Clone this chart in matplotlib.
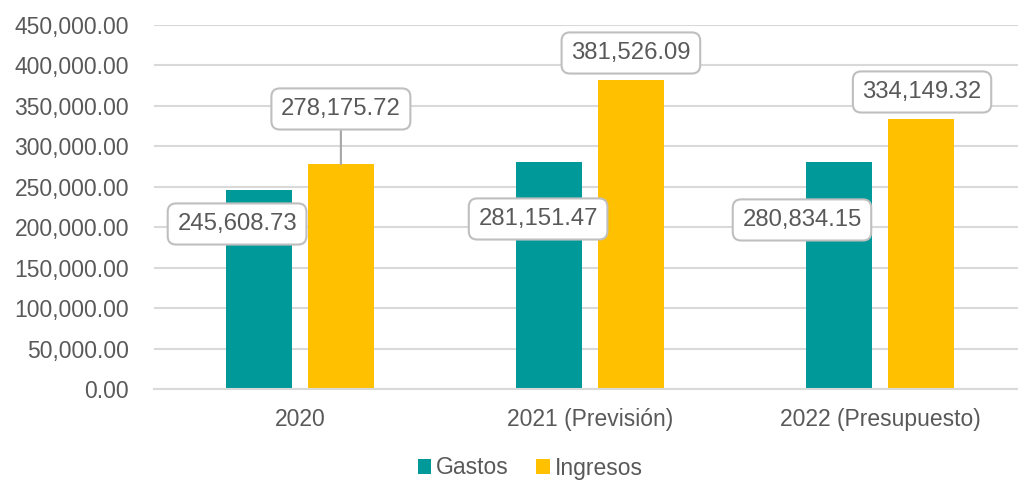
import matplotlib
matplotlib.use('Agg')
import matplotlib.pyplot as plt
import numpy as np
from matplotlib.ticker import FuncFormatter

# data
categories = ['2020', '2021 (Previsión)', '2022 (Presupuesto)']
gastos = [245608.73, 281151.47, 280834.15]
ingresos = [278175.72, 381526.09, 334149.32]

# label placement (x offset from category, y in data units)
gastos_lbl_dx = [-0.217, -0.179, -0.269]
gastos_lbl_y = [204000, 210200, 209000]
ingresos_lbl_dx = [0.141, 0.141, 0.145]
ingresos_lbl_y = [346200, 415400, 367200]

teal = '#009999'
yellow = '#FFC000'
txt = '#595959'
grid = '#D9D9D9'

plt.rcParams['font.family'] = ['Liberation Sans', 'DejaVu Sans']
fs = 16.5
lfs = 17.2

fig = plt.figure(figsize=(10.18, 4.8), dpi=100)
ax = fig.add_axes([154 / 1018, 1 - 389 / 480, 1 - 154 / 1018, (389 - 25) / 480])

x = np.arange(len(categories))
w = 0.228
off = 0.141
ax.bar(x - off, gastos, w, color=teal, label='Gastos', zorder=2)
ax.bar(x + off, ingresos, w, color=yellow, label='Ingresos', zorder=2)

ax.set_xlim((154 - 300) / 290, (1018 - 300) / 290)
ax.set_ylim(0, 450000)
ax.set_yticks(np.arange(0, 450001, 50000))
ax.yaxis.set_major_formatter(FuncFormatter(lambda v, p: '{:,.2f}'.format(v)))
ax.set_xticks(x)
ax.set_xticklabels(categories)
ax.grid(axis='y', color=grid, linewidth=1.5, zorder=0)
ax.set_axisbelow(True)
for s in ['top', 'right', 'left']:
    ax.spines[s].set_visible(False)
ax.spines['bottom'].set_color(grid)
ax.spines['bottom'].set_linewidth(1.5)
ax.tick_params(axis='both', length=0, labelsize=fs, labelcolor=txt)
ax.tick_params(axis='x', pad=14)
ax.tick_params(axis='y', pad=18)

box = dict(boxstyle='round,pad=0.4,rounding_size=0.35', fc='white', ec='#BFBFBF', lw=1.5)

for i in range(len(categories)):
    ax.text(x[i] + gastos_lbl_dx[i], gastos_lbl_y[i], '{:,.2f}'.format(gastos[i]),
            ha='center', va='center', fontsize=lfs, color=txt, bbox=box, zorder=5)
    if i == 0:
        ax.annotate('{:,.2f}'.format(ingresos[i]), xy=(x[i] + off, ingresos[i]),
                    xytext=(x[i] + ingresos_lbl_dx[i], ingresos_lbl_y[i]),
                    ha='center', va='center', fontsize=lfs, color=txt, bbox=box, zorder=5,
                    arrowprops=dict(arrowstyle='-', color='#A6A6A6', lw=1.5,
                                    shrinkA=0, shrinkB=0))
    else:
        ax.text(x[i] + ingresos_lbl_dx[i], ingresos_lbl_y[i], '{:,.2f}'.format(ingresos[i]),
                ha='center', va='center', fontsize=lfs, color=txt, bbox=box, zorder=5)

leg = fig.legend(loc='center', bbox_to_anchor=(530 / 1018, 1 - 468 / 480), ncol=2,
                 frameon=False, fontsize=fs, handlelength=0.6, handleheight=0.6,
                 handletextpad=0.2, columnspacing=1.2, labelcolor=txt)

fig.savefig('out.png', dpi=100)
